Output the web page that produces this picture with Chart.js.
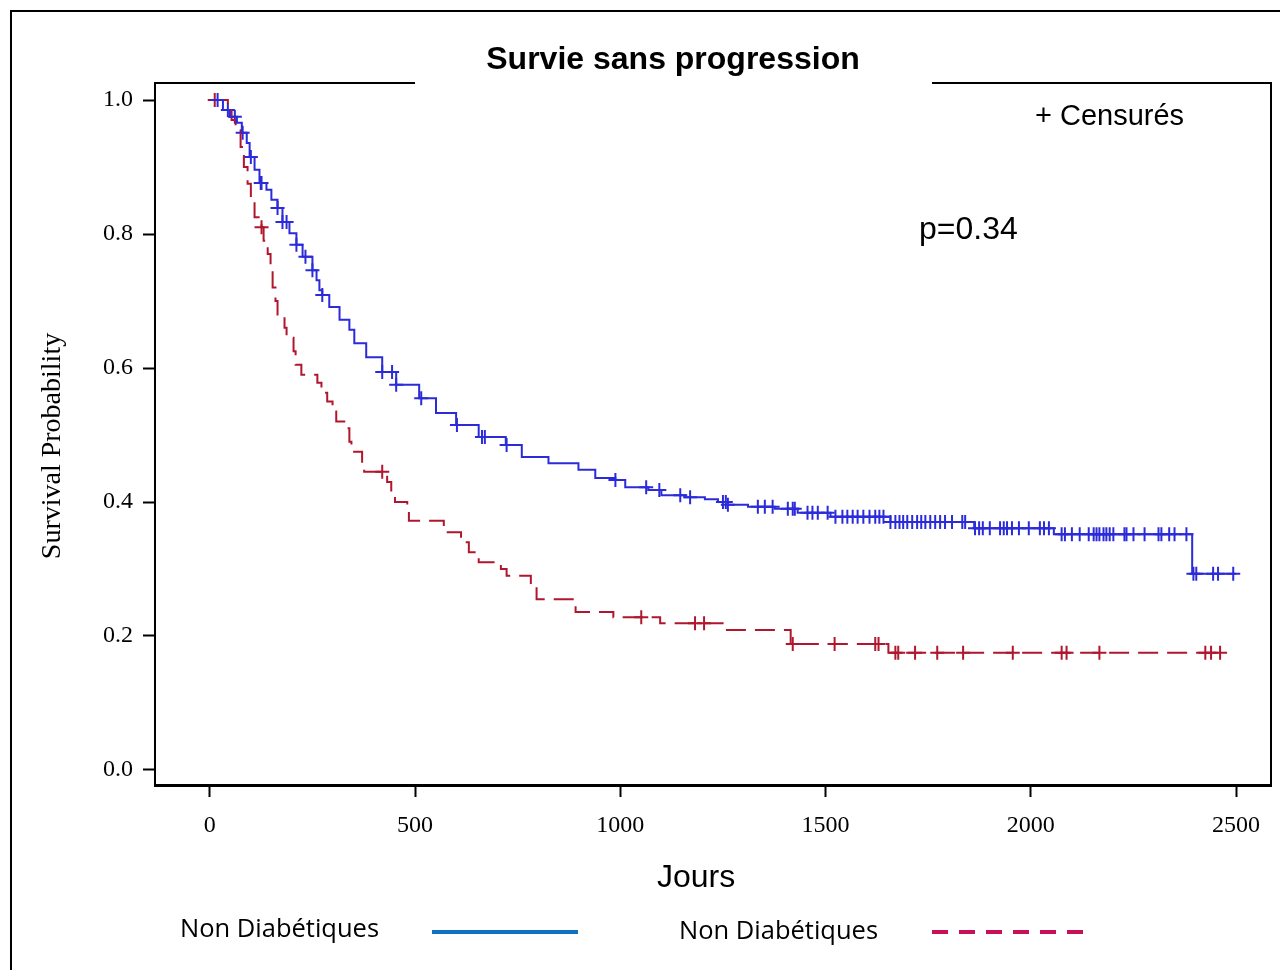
<!DOCTYPE html>
<html>
<head>
<meta charset="utf-8">
<script src="https://cdn.jsdelivr.net/npm/chart.js@4.4.1/dist/chart.umd.min.js"></script>
<style>
  html, body { margin: 0; padding: 0; background: #fff; }
  #wrap { width: 1280px; height: 970px; }
</style>
</head>
<body>
<div id="wrap"><canvas id="kmChart" width="1280" height="970"></canvas></div>
<script>
// Kaplan-Meier steps (day, survival after the step)
const blueTimes = [5, 32, 49, 66, 78, 90, 97, 109, 121, 138, 150, 165, 177, 194, 211, 226, 250, 260, 267, 274, 291, 316, 340, 352, 381, 420, 454, 510, 551, 600, 655, 721, 760, 825, 898, 939, 988, 1012, 1068, 1100, 1158, 1206, 1238, 1262, 1311, 1376, 1432, 1512, 1658, 1862, 2056, 2393, 2500];
const blueSurv  = [1.0, 0.985, 0.975, 0.966, 0.951, 0.936, 0.915, 0.896, 0.876, 0.866, 0.851, 0.839, 0.818, 0.801, 0.784, 0.766, 0.746, 0.731, 0.716, 0.709, 0.691, 0.672, 0.657, 0.637, 0.616, 0.594, 0.575, 0.555, 0.533, 0.515, 0.497, 0.485, 0.467, 0.458, 0.448, 0.436, 0.433, 0.422, 0.418, 0.410, 0.407, 0.404, 0.400, 0.396, 0.393, 0.390, 0.384, 0.378, 0.370, 0.361, 0.352, 0.293, 0.293];

const redTimes = [5, 44, 53, 63, 75, 83, 92, 100, 109, 126, 131, 141, 148, 153, 160, 165, 182, 187, 204, 209, 223, 262, 272, 286, 299, 308, 335, 340, 345, 371, 376, 432, 442, 451, 481, 485, 570, 612, 631, 655, 709, 723, 782, 796, 891, 983, 1097, 1252, 1415, 1653, 2471];
const redSurv  = [1.0, 0.985, 0.97, 0.955, 0.93, 0.90, 0.875, 0.85, 0.825, 0.81, 0.79, 0.77, 0.745, 0.72, 0.70, 0.68, 0.66, 0.645, 0.625, 0.605, 0.59, 0.578, 0.563, 0.55, 0.535, 0.52, 0.51, 0.49, 0.475, 0.46, 0.445, 0.43, 0.415, 0.40, 0.39, 0.372, 0.355, 0.34, 0.325, 0.31, 0.30, 0.29, 0.275, 0.255, 0.236, 0.228, 0.219, 0.209, 0.188, 0.175, 0.175];

// censored observations (days)
const blueCensored = [19, 44, 61, 80, 100, 124, 126, 165, 177, 187, 211, 233, 250, 274, 420, 444, 454, 515, 602, 663, 670, 723, 988, 1063, 1095, 1146, 1170, 1250, 1257, 1262, 1335, 1352, 1371, 1408, 1420, 1425, 1456, 1468, 1481, 1505, 1524, 1541, 1553, 1566, 1578, 1592, 1607, 1621, 1631, 1641, 1658, 1670, 1680, 1689, 1699, 1711, 1723, 1733, 1743, 1755, 1767, 1779, 1791, 1808, 1833, 1840, 1864, 1874, 1883, 1900, 1925, 1934, 1942, 1954, 1971, 1995, 2022, 2032, 2044, 2075, 2083, 2100, 2119, 2141, 2153, 2160, 2167, 2177, 2184, 2192, 2201, 2228, 2233, 2250, 2277, 2311, 2318, 2337, 2350, 2379, 2396, 2403, 2444, 2456, 2493];
const redCensored = [12, 126, 420, 1051, 1182, 1204, 1420, 1522, 1621, 1629, 1670, 1677, 1718, 1772, 1835, 1956, 2075, 2087, 2167, 2425, 2439, 2461];

const xTicks = [0, 500, 1000, 1500, 2000, 2500];
const yTicks = [0.0, 0.2, 0.4, 0.6, 0.8, 1.0];

const blueColor = '#2b2bd9';
const redColor = '#b0172e';

function toPoints(times, surv) {
  return times.map((t, i) => ({ x: t, y: surv[i] }));
}

// value of the step curve at day t
function survAt(times, surv, t) {
  let s = surv[0];
  for (let i = 0; i < times.length; i++) {
    if (times[i] <= t) s = surv[i];
  }
  return s;
}

function censorPoints(cens, times, surv) {
  return cens.map(t => ({ x: t, y: survAt(times, surv, t) }));
}

// frame, title, legend and notes
const decorPlugin = {
  id: 'decor',
  afterDraw(chart) {
    const ctx = chart.ctx;
    const a = chart.chartArea;
    ctx.save();
    ctx.strokeStyle = '#000';

    // outer frame
    ctx.lineWidth = 2;
    ctx.beginPath();
    ctx.moveTo(11, 970);
    ctx.lineTo(11, 11);
    ctx.lineTo(1280, 11);
    ctx.stroke();

    // top and right of the plot box (gap for the title)
    ctx.lineWidth = 2;
    ctx.beginPath();
    ctx.moveTo(a.left, a.top);
    ctx.lineTo(415, a.top);
    ctx.moveTo(932, a.top);
    ctx.lineTo(a.right, a.top);
    ctx.lineTo(a.right, a.bottom);
    ctx.stroke();

    ctx.fillStyle = '#000';
    ctx.textBaseline = 'middle';

    ctx.font = 'bold 32px "Liberation Sans", Arial, sans-serif';
    ctx.textAlign = 'center';
    ctx.fillText('Survie sans progression', 673, 60);

    ctx.font = '32px "Liberation Sans", Arial, sans-serif';
    ctx.fillText('Jours', 696, 878);

    ctx.textAlign = 'left';
    ctx.font = '29px "Liberation Sans", Arial, sans-serif';
    ctx.fillText('+ Censurés', 1035, 117);
    ctx.font = '32px "Liberation Sans", Arial, sans-serif';
    ctx.fillText('p=0.34', 919, 230);

    // y axis title
    ctx.save();
    ctx.translate(53, 446);
    ctx.rotate(-Math.PI / 2);
    ctx.textAlign = 'center';
    ctx.font = '28px "Liberation Serif", "Times New Roman", serif';
    ctx.fillText('Survival Probability', 0, 0);
    ctx.restore();

    // legend
    ctx.font = '25.5px "Open Sans", "Noto Sans", sans-serif';
    ctx.textAlign = 'left';
    ctx.fillText('Non Diabétiques', 180, 930);
    ctx.fillText('Non Diabétiques', 679, 932);

    ctx.lineWidth = 4;
    ctx.strokeStyle = '#0f72c0';
    ctx.beginPath();
    ctx.moveTo(432, 932);
    ctx.lineTo(578, 932);
    ctx.stroke();

    ctx.strokeStyle = '#c8105a';
    ctx.setLineDash([16, 11]);
    ctx.beginPath();
    ctx.moveTo(932, 932);
    ctx.lineTo(1086, 932);
    ctx.stroke();
    ctx.setLineDash([]);

    ctx.restore();
  }
};

const ctx = document.getElementById('kmChart').getContext('2d');
new Chart(ctx, {
  type: 'line',
  data: {
    datasets: [
      {
        label: 'Non Diabétiques',
        data: toPoints(blueTimes, blueSurv),
        borderColor: blueColor,
        borderWidth: 2,
        stepped: 'before',
        pointRadius: 0,
        fill: false
      },
      {
        label: 'Diabétiques',
        data: toPoints(redTimes, redSurv),
        borderColor: redColor,
        borderWidth: 2,
        borderDash: [20, 9],
        stepped: 'before',
        pointRadius: 0,
        fill: false
      },
      {
        type: 'scatter',
        label: 'Censurés bleu',
        data: censorPoints(blueCensored, blueTimes, blueSurv),
        pointStyle: 'cross',
        pointRadius: 7,
        pointBorderWidth: 2,
        borderColor: blueColor,
        showLine: false
      },
      {
        type: 'scatter',
        label: 'Censurés rouge',
        data: censorPoints(redCensored, redTimes, redSurv),
        pointStyle: 'cross',
        pointRadius: 7,
        pointBorderWidth: 2,
        borderColor: redColor,
        showLine: false
      }
    ]
  },
  options: {
    responsive: false,
    animation: false,
    layout: { padding: { left: 0, top: 83, right: 5, bottom: 125 } },
    plugins: {
      legend: { display: false },
      tooltip: { enabled: false }
    },
    scales: {
      x: {
        type: 'linear',
        min: -133.5,
        max: 2585,
        afterFit: scale => { scale.height = 60; },
        afterBuildTicks: scale => { scale.ticks = xTicks.map(v => ({ value: v })); },
        border: { display: true, color: '#000', width: 3 },
        grid: { display: true, drawOnChartArea: false, drawTicks: true, tickLength: 12, tickColor: '#000', tickWidth: 2 },
        ticks: {
          color: '#000',
          padding: 14,
          maxRotation: 0,
          font: { family: '"Liberation Serif", "Times New Roman", serif', size: 24 },
          callback: v => String(v)
        }
      },
      y: {
        type: 'linear',
        min: -0.0224,
        max: 1.0254,
        afterFit: scale => { scale.width = 155; },
        afterBuildTicks: scale => { scale.ticks = yTicks.map(v => ({ value: v })); },
        border: { display: true, color: '#000', width: 2 },
        grid: { display: true, drawOnChartArea: false, drawTicks: true, tickLength: 12, tickColor: '#000', tickWidth: 2 },
        ticks: {
          color: '#000',
          padding: 10,
          font: { family: '"Liberation Serif", "Times New Roman", serif', size: 24 },
          callback: v => Number(v).toFixed(1)
        }
      }
    }
  },
  plugins: [decorPlugin]
});
</script>
</body>
</html>
